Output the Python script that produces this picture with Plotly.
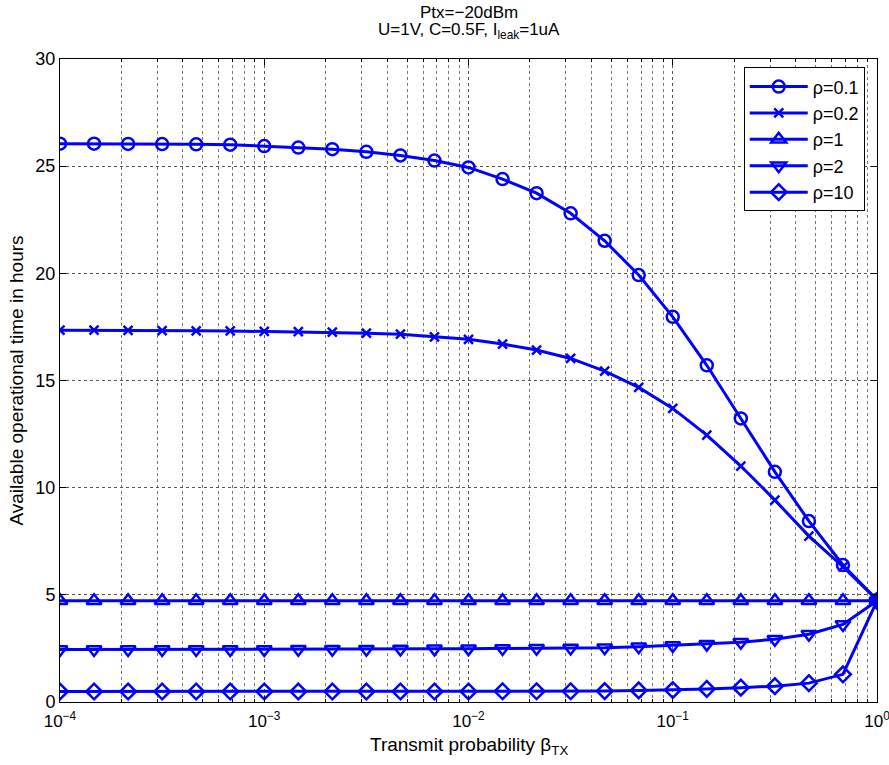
import plotly.graph_objects as go

beta = [10 ** (-4 + i / 6) for i in range(25)]

rho_01 = [26.05, 26.05, 26.04, 26.03, 26.02, 26.0, 25.94, 25.87, 25.79, 25.67, 25.5, 25.26,
          24.94, 24.4, 23.74, 22.8, 21.52, 19.92, 17.97, 15.71, 13.23, 10.74, 8.44, 6.39, 4.76]
rho_02 = [17.35, 17.35, 17.34, 17.33, 17.32, 17.31, 17.29, 17.28, 17.26, 17.21, 17.16, 17.04,
          16.92, 16.70, 16.42, 16.03, 15.44, 14.68, 13.70, 12.45, 11.01, 9.42, 7.74, 6.31, 4.76]
rho_1 = [4.72] * 25
rho_2 = [2.45, 2.45, 2.45, 2.45, 2.45, 2.45, 2.45, 2.46, 2.46, 2.46, 2.47, 2.48,
         2.49, 2.5, 2.51, 2.52, 2.53, 2.58, 2.64, 2.70, 2.79, 2.93, 3.16, 3.62, 4.72]
rho_10 = [0.49, 0.49, 0.49, 0.49, 0.49, 0.49, 0.49, 0.49, 0.49, 0.49, 0.49, 0.49,
          0.49, 0.5, 0.5, 0.5, 0.51, 0.54, 0.56, 0.61, 0.67, 0.74, 0.88, 1.29, 4.72]

series = [
    ("ρ=0.1", rho_01, "circle-open", 12),
    ("ρ=0.2", rho_02, "x-thin-open", 9),
    ("ρ=1", rho_1, "triangle-up-open", 13),
    ("ρ=2", rho_2, "triangle-down-open", 13),
    ("ρ=10", rho_10, "diamond-open", 12),
]

title_lines = ["Ptx=−20dBm", "U=1V, C=0.5F, I<sub>leak</sub>=1uA"]
x_title = "Transmit probability β<sub>TX</sub>"
y_title = "Available operational time in hours"
xtickvals = [1e-4, 1e-3, 1e-2, 1e-1, 1]
xticktext = ["10<sup>−4</sup>", "10<sup>−3</sup>", "10<sup>−2</sup>", "10<sup>−1</sup>", "10<sup>0</sup>"]
xminorvals = [m * 10 ** e for e in range(-4, 0) for m in range(2, 10)]
ytickvals = [0, 5, 10, 15, 20, 25, 30]

blue = "#0000ff"
fig = go.Figure()
for name, ys, sym, sz in series:
    fig.add_trace(go.Scatter(
        x=beta, y=ys, name=name, mode="lines+markers",
        line=dict(color=blue, width=3),
        marker=dict(symbol=sym, size=sz, color=blue, line=dict(color=blue, width=2.5)),
    ))

top, plot_h = 59, 643


def ypix(p):
    return 1 + (top - p) / plot_h


for txt, yc in zip(title_lines, [12, 31]):
    fig.add_annotation(text=txt, xref="paper", yref="paper", x=0.5, y=ypix(yc),
                       xanchor="center", yanchor="middle", showarrow=False,
                       font=dict(size=17))

fig.add_annotation(text=x_title, xref="paper", yref="paper", x=0.5, y=ypix(746),
                   xanchor="center", yanchor="middle", showarrow=False, font=dict(size=19))

font = "Liberation Sans, Arial, sans-serif"
fig.update_layout(
    width=889, height=765,
    margin=dict(l=60, r=12, t=top, b=765 - top - plot_h),
    paper_bgcolor="white", plot_bgcolor="white",
    font=dict(family=font, size=17, color="black"),
    showlegend=True,
    legend=dict(x=0.985, xanchor="right", y=0.987, yanchor="top",
                bordercolor="black", borderwidth=1, bgcolor="white",
                font=dict(size=18), itemwidth=58, tracegroupgap=1),
    xaxis=dict(type="log", range=[-4, 0], tickvals=xtickvals, ticktext=xticktext,
               automargin=False,
               showline=True, linecolor="black", linewidth=1, mirror="ticks",
               ticks="inside", ticklen=6, tickcolor="black", ticklabeloverflow="allow",
               ticklabelstandoff=4,
               showgrid=True, gridcolor="#555", griddash="dot", gridwidth=1,
               minor=dict(tickvals=xminorvals, ticks="inside", ticklen=3, tickcolor="black",
                          showgrid=True, gridcolor="#777", griddash="dot", gridwidth=1),
               zeroline=False,
               tickfont=dict(size=17)),
    yaxis=dict(range=[0, 30], tickvals=ytickvals, automargin=False,
               showline=True, linecolor="black", linewidth=1, mirror="ticks",
               ticks="inside", ticklen=6, tickcolor="black",
               showgrid=True, gridcolor="#555", griddash="dot", gridwidth=1,
               zeroline=False,
               title=dict(text=y_title, standoff=6, font=dict(size=19)),
               tickfont=dict(size=18)),
)

fig.write_html("out.html")
